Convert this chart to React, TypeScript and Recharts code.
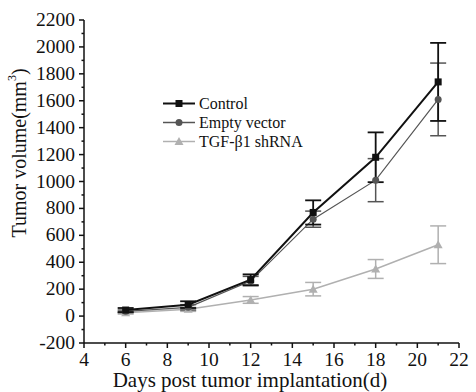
import React from "react";
import { LineChart, Line, XAxis, YAxis, ErrorBar } from "recharts";

const days = [6, 9, 12, 15, 18, 21];
const control = [45, 85, 270, 770, 1180, 1740];
const controlErr = [15, 25, 40, 90, 185, 290];
const emptyVector = [35, 65, 260, 720, 1010, 1610];
const emptyErr = [10, 20, 35, 60, 160, 270];
const tgf = [25, 50, 120, 200, 350, 530];
const tgfErr = [10, 15, 25, 50, 70, 140];

const xTicks = [4, 5, 6, 7, 8, 9, 10, 11, 12, 13, 14, 15, 16, 17, 18, 19, 20, 21, 22];
const yTicks = [-200, -100, 0, 100, 200, 300, 400, 500, 600, 700, 800, 900, 1000, 1100, 1200, 1300, 1400, 1500, 1600, 1700, 1800, 1900, 2000, 2100, 2200];

const seriesNames = ["Control", "Empty vector", "TGF-\u03b21 shRNA"];
const colors = ["#111111", "#555555", "#b0b0b0"];

const data = days.map((d, i) => ({
  day: d,
  control: control[i],
  controlErr: controlErr[i],
  empty: emptyVector[i],
  emptyErr: emptyErr[i],
  tgf: tgf[i],
  tgfErr: tgfErr[i],
}));

const FONT = "'Liberation Serif', 'DejaVu Serif', serif";

const Marker = ({ kind, cx, cy, color }: any) => {
  if (cx == null || cy == null) return <g />;
  if (kind === 0) return <rect x={cx - 3.5} y={cy - 3.5} width={7} height={7} fill={color} />;
  if (kind === 1) return <circle cx={cx} cy={cy} r={3.5} fill={color} />;
  return <polygon points={`${cx},${cy - 4.5} ${cx - 4.5},${cy + 3.5} ${cx + 4.5},${cy + 3.5}`} fill={color} />;
};

const XTick = (props: any) => {
  const { x, y, payload } = props;
  const v = payload.value;
  const major = v % 2 === 0;
  return (
    <g>
      <line x1={x} x2={x} y1={y} y2={y + (major ? 5 : 2.5)} stroke="#111" strokeWidth={1.5} />
      {major && (
        <text x={x} y={y + 23} textAnchor="middle" fontFamily={FONT} fontSize={19.5} fill="#111">
          {v}
        </text>
      )}
    </g>
  );
};

const YTick = (props: any) => {
  const { x, y, payload } = props;
  const v = payload.value;
  const major = v % 200 === 0;
  return (
    <g>
      <line x1={x} x2={x - (major ? 5 : 2.5)} y1={y} y2={y} stroke="#111" strokeWidth={1.5} />
      {major && (
        <text x={x - 9} y={y + 6} textAnchor="end" fontFamily={FONT} fontSize={19.5} fill="#111">
          {v}
        </text>
      )}
    </g>
  );
};

const LegendBox = () => (
  <div
    style={{
      position: "absolute",
      left: 162,
      top: 94,
      fontFamily: FONT,
      fontSize: 16,
      color: "#111",
      lineHeight: "19px",
    }}
  >
    {seriesNames.map((n, i) => (
      <div key={n} style={{ display: "flex", alignItems: "center", height: 19 }}>
        <svg width={34} height={19} style={{ marginRight: 3 }}>
          <line x1={1} x2={33} y1={9.5} y2={9.5} stroke={colors[i]} strokeWidth={i === 0 ? 2 : 1.5} />
          <Marker kind={i} cx={17} cy={9.5} color={colors[i]} />
        </svg>
        <span style={{ whiteSpace: "nowrap" }}>{n}</span>
      </div>
    ))}
  </div>
);

export default function App() {
  return (
    <div style={{ position: "absolute", left: 0, top: 0, width: 476, height: 392, background: "#fff" }}>
      <LineChart width={476} height={392} data={data} margin={{ top: 20, right: 17, bottom: 0, left: 0 }}>
        <XAxis
          dataKey="day"
          type="number"
          domain={[4, 22]}
          ticks={xTicks}
          interval={0}
          tickLine={false}
          tickSize={0}
          tickMargin={0}
          tick={<XTick />}
          axisLine={{ stroke: "#111", strokeWidth: 1.5 }}
          height={49}
          label={{
            content: () => (
              <text x={250} y={387} textAnchor="middle" fontFamily={FONT} fontSize={21} fill="#111">
                Days post tumor implantation(d)
              </text>
            ),
          }}
        />
        <YAxis
          type="number"
          domain={[-200, 2200]}
          ticks={yTicks}
          interval={0}
          tickLine={false}
          tickSize={0}
          tickMargin={0}
          tick={<YTick />}
          axisLine={{ stroke: "#111", strokeWidth: 1.5 }}
          width={84}
          label={{
            content: () => (
              <text
                x={19}
                y={153}
                transform="rotate(-90, 19, 153)"
                textAnchor="middle"
                dominantBaseline="central"
                fontFamily={FONT}
                fontSize={20}
                fill="#111"
              >
                Tumor volume(mm<tspan dy={-7} fontSize={12}>3</tspan><tspan dy={7}>)</tspan>
              </text>
            ),
          }}
        />
        <Line
          dataKey="tgf"
          name={seriesNames[2]}
          stroke={colors[2]}
          strokeWidth={1.5}
          isAnimationActive={false}
          dot={(p: any) => <Marker key={p.index} kind={2} cx={p.cx} cy={p.cy} color={colors[2]} />}
        >
          <ErrorBar dataKey="tgfErr" direction="y" width={8} stroke={colors[2]} strokeWidth={1.5} />
        </Line>
        <Line
          dataKey="empty"
          name={seriesNames[1]}
          stroke={colors[1]}
          strokeWidth={1.2}
          isAnimationActive={false}
          dot={(p: any) => <Marker key={p.index} kind={1} cx={p.cx} cy={p.cy} color={colors[1]} />}
        >
          <ErrorBar dataKey="emptyErr" direction="y" width={8} stroke={colors[1]} strokeWidth={1.5} />
        </Line>
        <Line
          dataKey="control"
          name={seriesNames[0]}
          stroke={colors[0]}
          strokeWidth={2}
          isAnimationActive={false}
          dot={(p: any) => <Marker key={p.index} kind={0} cx={p.cx} cy={p.cy} color={colors[0]} />}
        >
          <ErrorBar dataKey="controlErr" direction="y" width={8} stroke={colors[0]} strokeWidth={1.8} />
        </Line>
      </LineChart>
      <LegendBox />
    </div>
  );
}
